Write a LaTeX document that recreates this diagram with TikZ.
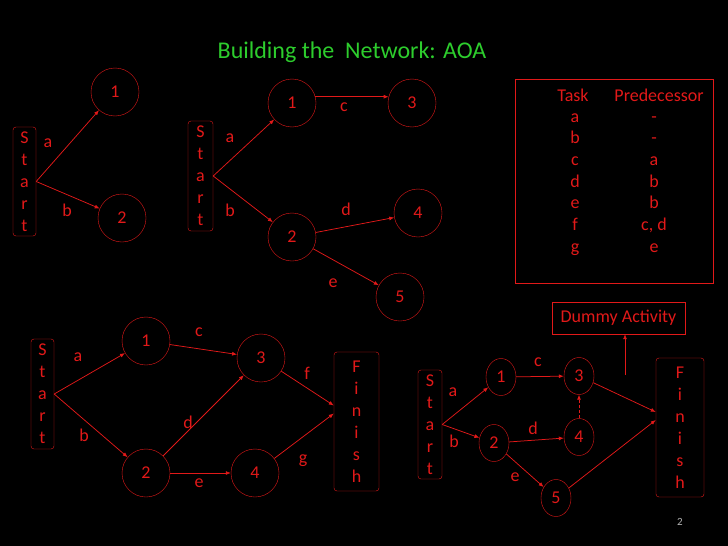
\documentclass[tikz,border=0pt]{standalone}
\usepackage{fontspec}
\setmainfont{Carlito}
\usetikzlibrary{arrows.meta,shapes.geometric}
\definecolor{netred}{RGB}{225,25,25}
\definecolor{titlegreen}{RGB}{45,205,45}

\begin{document}
\begin{tikzpicture}[x=1pt,y=-1pt,>={Latex[length=5pt,width=4pt]},
  every node/.style={font=\fontsize{18}{22}\selectfont},
  evt/.style={circle,draw=netred,text=netred,minimum size=48pt,inner sep=0pt},
  evtsm/.style={ellipse,draw=netred,text=netred,minimum width=30pt,minimum height=37pt,inner sep=0pt},
  termbox/.style={draw=netred,text=netred,rounded corners=3pt,align=center,inner sep=0pt},
  lbl/.style={text=netred,inner sep=0pt},
  act/.style={->,draw=netred,line width=0.75pt}]
  \fill[black] (0,0) rectangle (728,546);
  \useasboundingbox (0,0) rectangle (728,546);

  \node[text=titlegreen,font=\fontsize{24}{28}\selectfont] (title) at (352,52) {Building the~~Network: AOA};

  % first step: a and b
  \node[termbox,minimum width=23pt,minimum height=109pt] (s1) at (24.5,181.5) {S\\t\\a\\r\\t};
  \node[evt] (a1) at (115,92) {1};
  \node[evt] (a2) at (122,218) {2};
  \draw[act] (s1.east) -- (a1);
  \draw[act] (s1.east) -- (a2);
  \node[lbl] (la1) at (48,143) {a};
  \node[lbl] (lb1) at (67,210) {b};

  % second step: c, d, e
  \node[termbox,minimum width=25pt,minimum height=110pt] (s2) at (200.5,176) {S\\t\\a\\r\\t};
  \node[evt] (b1) at (292,103) {1};
  \node[evt] (b2) at (292,237) {2};
  \node[evt] (b3) at (412,103) {3};
  \node[evt] (b4) at (418,213) {4};
  \node[evt] (b5) at (400,297) {5};
  \draw[act] (s2.east) -- (b1);
  \draw[act] (s2.east) -- (b2);
  \draw[act] (b1.15) -- (b3.165);
  \draw[act] (b2) -- (b4);
  \draw[act] (b2) -- (b5);
  \node[lbl] (la2) at (230,138) {a};
  \node[lbl] (lb2) at (230,210) {b};
  \node[lbl] (lc2) at (344,107) {c};
  \node[lbl] (ld2) at (346,209) {d};
  \node[lbl] (le2) at (333,283) {e};

  % precedence table
  \node[draw=netred,minimum width=198pt,minimum height=204pt] (tbl) at (614,181) {};
  \node[lbl,anchor=base] (hdtask) at (573,101) {Task};
  \node[lbl,anchor=base] (hdpred) at (659,101) {Predecessor};
  \foreach \t/\p [count=\i] in {a/-,b/-,c/a,d/b,e/b,f/{c, d},g/e} {
    \node[lbl,anchor=base] (task\i) at (575,{122+21.7*(\i-1)}) {\t};
    \node[lbl,anchor=base] (pred\i) at (654,{122+21.7*(\i-1)}) {\p};
  }

  % full network
  \node[termbox,minimum width=23pt,minimum height=110pt] (s3) at (42.5,394) {S\\t\\a\\r\\t};
  \node[evt] (c1) at (146,341) {1};
  \node[evt] (c2) at (146,473) {2};
  \node[evt] (c3) at (261,358) {3};
  \node[evt] (c4) at (255,473) {4};
  \node[termbox,minimum width=45pt,minimum height=139pt] (f3) at (356.5,421.5) {F\\i\\n\\i\\s\\h};
  \draw[act] (s3.east) -- (c1);
  \draw[act] (s3.east) -- (c2);
  \draw[act] (c1) -- (c3);
  \draw[act] (c2) -- (c3);
  \draw[act] (c2) -- (c4);
  \draw[act] (c3) -- ([yshift=16pt]f3.west);
  \draw[act] (c4) -- ([yshift=8pt]f3.west);
  \node[lbl] (la3) at (78,357) {a};
  \node[lbl] (lb3) at (84,435) {b};
  \node[lbl] (lc3) at (199,332) {c};
  \node[lbl] (ld3) at (188,422) {d};
  \node[lbl] (le3) at (199,483) {e};
  \node[lbl] (lf3) at (307,373) {f};
  \node[lbl] (lg3) at (303,461) {g};

  % network with dummy
  \node[draw=netred,text=netred,minimum width=133pt,minimum height=32pt] (dummy) at (618.5,318) {Dummy Activity};
  \coordinate (dtail) at (625,375);
  \draw[act] (dtail) -- (dtail |- dummy.south);
  \node[termbox,minimum width=24pt,minimum height=109pt] (s4) at (430,424.5) {S\\t\\a\\r\\t};
  \node[evtsm] (d1) at (501,377) {1};
  \node[evtsm] (d2) at (494,443) {2};
  \node[evtsm] (d3) at (579,376) {3};
  \node[evtsm] (d4) at (579,437) {4};
  \node[evtsm] (d5) at (556,498) {5};
  \node[termbox,minimum width=48pt,minimum height=139pt] (f4) at (680,427.5) {F\\i\\n\\i\\s\\h};
  \draw[act] (s4.east) -- (d1);
  \draw[act] (s4.east) -- (d2);
  \draw[act] (d1) -- (d3);
  \draw[act] (d2) -- (d4);
  \draw[act] (d2) -- (d5);
  \draw[act,densely dashed] (d4) -- (d3);
  \draw[act] (d3) -- ([yshift=15.5pt]f4.west);
  \draw[act] (d5) -- ([yshift=7.5pt]f4.west);
  \node[lbl] (la4) at (453,392) {a};
  \node[lbl] (lb4) at (454,441) {b};
  \node[lbl] (lc4) at (538,362) {c};
  \node[lbl] (ld4) at (533,428) {d};
  \node[lbl] (le4) at (515,477) {e};

  \node[text=gray!60,font=\fontsize{11}{13}\selectfont] (pgno) at (680,522) {2};
\end{tikzpicture}
\end{document}
